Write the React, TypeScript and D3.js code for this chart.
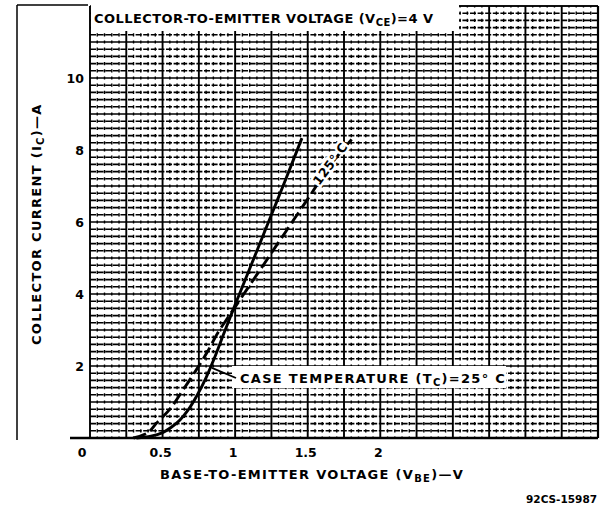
import React from "react";
import * as d3 from "d3";

// ---- data ----
const xTicks = [0, 0.5, 1, 1.5, 2];
const xTickLabels = ["0", "0.5", "1", "1.5", "2"];
const yTicks = [2, 4, 6, 8, 10];
const yTickLabels = ["2", "4", "6", "8", "10"];

// 25 °C case temperature (solid)
const vbe25 = [0.32, 0.42, 0.5, 0.56, 0.62, 0.68, 0.74, 0.8, 0.86, 0.92, 0.98, 1.05, 1.15, 1.25, 1.35, 1.46];
const ic25 = [0, 0.05, 0.15, 0.3, 0.5, 0.8, 1.2, 1.68, 2.25, 2.88, 3.5, 4.2, 5.2, 6.2, 7.2, 8.33];

// 125 °C case temperature (dashed)
const vbe125 = [0.3, 0.4, 0.46, 0.55, 0.64, 0.74, 0.81, 0.88, 0.96, 1.08, 1.16, 1.24, 1.32, 1.4, 1.52, 1.66, 1.81];
const ic125 = [0, 0.15, 0.42, 0.8, 1.33, 1.94, 2.4, 2.92, 3.4, 4.12, 4.6, 5.08, 5.56, 6.04, 6.76, 7.6, 8.33];

const X_DOMAIN = [0, 3.5];
const Y_DOMAIN = [0, 12];

const FONT = "'DejaVu Sans', sans-serif";

export default function App() {
  const x = d3.scaleLinear().domain(X_DOMAIN).range([90, 598]);
  const y = d3.scaleLinear().domain(Y_DOMAIN).range([438, 6]);

  const line = d3
    .line<[number, number]>()
    .x((d) => x(d[0]))
    .y((d) => y(d[1]))
    .curve(d3.curveCatmullRom.alpha(0.5));

  const pts25: [number, number][] = vbe25.map((v, i) => [v, ic25[i]]);
  const pts125: [number, number][] = vbe125.map((v, i) => [v, ic125[i]]);

  const eps = 1e-6;
  const minorH = d3.range(0, 12 + eps, 0.2).filter((v) => Math.abs(v - Math.round(v)) > eps);
  const majorH = d3.range(1, 12 + eps, 1);
  const minorV = d3.range(0, 3.5 + eps, 0.05).filter((v) => Math.abs(v * 4 - Math.round(v * 4)) > eps);
  const majorV = d3.range(0, 3.5 + eps, 0.25);

  // label angle for the 125 °C curve
  const a1: [number, number] = [1.52, 6.76];
  const a2: [number, number] = [1.81, 8.33];
  const ang = (Math.atan2(y(a2[1]) - y(a1[1]), x(a2[0]) - x(a1[0])) * 180) / Math.PI;
  const lx = x(1.655);
  const ly = y(7.62);

  const [x0, x1] = x.range();
  const [y0, y1] = y.range();

  return (
    <svg
      width={612}
      height={516}
      style={{ position: "absolute", left: 0, top: 0, background: "#fff" }}
      fontFamily={FONT}
      fontWeight="bold"
    >
      <rect x={0} y={0} width={612} height={516} fill="#fff" />
      {/* outer scan frame */}
      <line x1={17} y1={5} x2={88} y2={5} stroke="#000" strokeWidth={1.5} />
      <line x1={175} y1={6} x2={598} y2={6} stroke="#000" strokeWidth={1.5} />
      <line x1={17} y1={5} x2={17} y2={440} stroke="#000" strokeWidth={1.5} />

      {/* grid */}
      <g stroke="#000">
        {minorH.map((v) => (
          <line key={"mh" + v} x1={x0} x2={x1} y1={y(v)} y2={y(v)} strokeWidth={1.6} strokeDasharray="6 1.6" />
        ))}
        {minorV.map((v) => (
          <line
            key={"mv" + v}
            x1={x(v)}
            x2={x(v)}
            y1={y0}
            y2={y1}
            strokeWidth={1.4}
            strokeDasharray="3.2 4"
            strokeDashoffset={1.6}
          />
        ))}
        {majorH.map((v) => (
          <line key={"MH" + v} x1={x0} x2={x1} y1={y(v)} y2={y(v)} strokeWidth={1.7} />
        ))}
        {majorV.map((v) => (
          <line key={"MV" + v} x1={x(v)} x2={x(v)} y1={y0} y2={y1} strokeWidth={1.9} />
        ))}
        <line x1={x1} x2={x1} y1={y0} y2={y1} strokeWidth={2.2} />
        <line x1={70} x2={x1} y1={y0} y2={y0} strokeWidth={2.4} />
      </g>

      {/* white label boxes */}
      <rect x={91} y={5} width={368} height={26} fill="#fff" />
      <rect x={232} y={366} width={274} height={22} fill="#fff" />

      {/* curves */}
      <path d={line(pts25) || ""} fill="none" stroke="#000" strokeWidth={2.9} />
      <path d={line(pts125) || ""} fill="none" stroke="#000" strokeWidth={2.9} strokeDasharray="13 5" />

      {/* 125 °C label */}
      <text
        x={lx}
        y={ly}
        transform={`rotate(${ang} ${lx} ${ly})`}
        textAnchor="middle"
        dominantBaseline="central"
        fontSize={12.5}
        letterSpacing={0.5}
        fill="#000"
        stroke="#fff"
        strokeWidth={5}
        paintOrder="stroke"
      >
        125° C
      </text>

      {/* top title */}
      <text x={94} y={23} fontSize={13} letterSpacing={0.45} fill="#000">
        COLLECTOR-TO-EMITTER VOLTAGE (V
        <tspan fontSize={10} dy={3}>CE</tspan>
        <tspan dy={-3}>)=4 V</tspan>
      </text>

      {/* case temperature label */}
      <line x1={x(0.84)} y1={y(1.95)} x2={236} y2={378} stroke="#000" strokeWidth={1.8} />
      <text x={240} y={383} fontSize={13} letterSpacing={1.3} fill="#000">
        CASE TEMPERATURE (T
        <tspan fontSize={10} dy={3}>C</tspan>
        <tspan dy={-3}>)=25° C</tspan>
      </text>

      {/* x tick labels */}
      {xTicks.map((v, i) => (
        <text key={"xt" + v} x={x(v) - (v === 0 ? 8 : 2)} y={457} textAnchor="middle" fontSize={12.5} fill="#000">
          {xTickLabels[i]}
        </text>
      ))}
      {/* y tick labels */}
      {yTicks.map((v, i) => (
        <text key={"yt" + v} x={84} y={y(v)} textAnchor="end" dominantBaseline="central" fontSize={12.5} fill="#000">
          {yTickLabels[i]}
        </text>
      ))}

      {/* axis titles */}
      <text x={160} y={479} fontSize={13} letterSpacing={1.3} fill="#000">
        BASE-TO-EMITTER VOLTAGE (V
        <tspan fontSize={10} dy={3}>BE</tspan>
        <tspan dy={-3}>)—V</tspan>
      </text>
      <text
        x={0}
        y={0}
        transform={`translate(41, 345) rotate(-90)`}
        fontSize={13}
        letterSpacing={1.3}
        fill="#000"
      >
        COLLECTOR CURRENT (I
        <tspan fontSize={10} dy={3}>C</tspan>
        <tspan dy={-3}>)—A</tspan>
      </text>

      <text x={597} y={503} textAnchor="end" fontSize={10.5} fill="#000">
        92CS-15987
      </text>
    </svg>
  );
}
